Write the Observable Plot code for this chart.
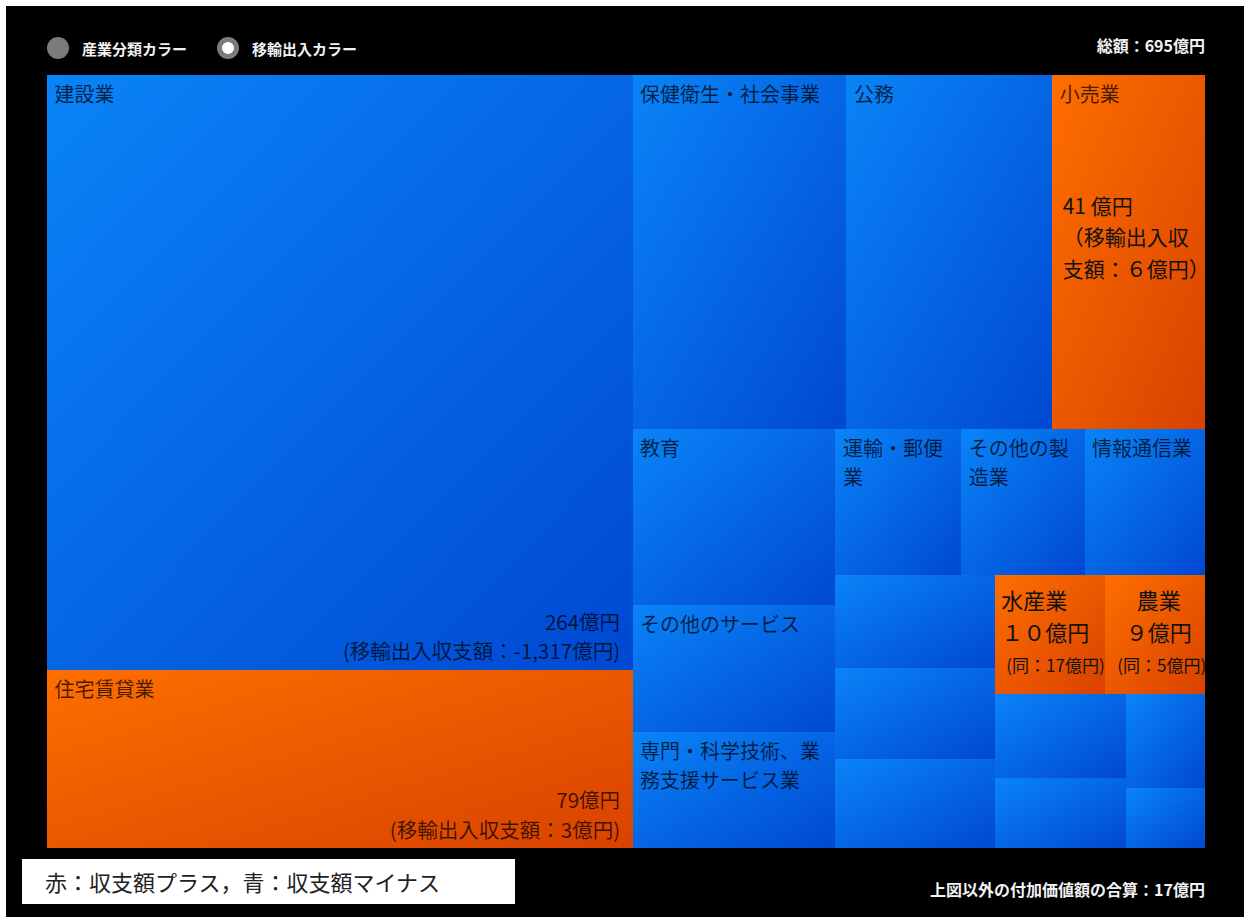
<!DOCTYPE html>
<html>
<head>
<meta charset="utf-8">
<script src="https://cdn.jsdelivr.net/npm/d3@7"></script>
<script src="https://cdn.jsdelivr.net/npm/@observablehq/plot@0.6"></script>
<style>
html, body { margin: 0; padding: 0; background: #fff; }
body { width: 1250px; height: 917px; position: relative; overflow: hidden;
  font-family: "Noto Sans CJK JP", "Noto Sans", sans-serif; }
#bg { position: absolute; left: 6px; top: 6px; width: 1238px; height: 911px; background: #000; }
#chart { position: absolute; left: 0; top: 0; }
.lg { position: absolute; top: 37px; height: 22px; display: flex; align-items: center; color: #f2f2f2;
  font-size: 15px; font-weight: 700; white-space: nowrap; }
.dot { width: 22px; height: 22px; border-radius: 50%; background: #7b7b7b; margin-right: 13px; box-sizing: border-box; }
.dot.on { background: #fff; border: 5px solid #7b7b7b; }
.note { position: absolute; right: 45px; color: #f2f2f2; font-size: 16px; font-weight: 700; white-space: nowrap; }
#box { position: absolute; left: 22px; top: 859px; width: 493px; height: 45px; background: #fff;
  color: #222; font-size: 22px; line-height: 45px; padding-left: 23px; box-sizing: border-box; white-space: nowrap; }
</style>
</head>
<body>
<div id="bg"></div>
<div id="chart"></div>
<div class="lg" style="left:47px"><div class="dot"></div>産業分類カラー</div>
<div class="lg" style="left:217px"><div class="dot on"></div>移輸出入カラー</div>
<div class="note" id="total" style="top:33px"></div>
<div class="note" id="other" style="top:877px"></div>
<div id="box">赤：収支額プラス，青：収支額マイナス</div>
<script>
// ---- data (億円) ----
const industries = ["建設業", "住宅賃貸業", "保健衛生・社会事業", "公務", "小売業", "教育",
  "その他のサービス", "専門・科学技術、業務支援サービス業", "運輸・郵便業", "その他の製造業", "情報通信業",
  "", "", "", "水産業", "農業", "", "", "", ""];
const values = [264, 79, 57.4, 55.2, 41, 27.1, 19.5, 17.8, 13.9, 13.6, 13.3,
  11.2, 11.1, 10.7, 10, 9, 8.3, 7.0, 5.6, 3.6];
// sign of 移輸出入収支額 (+1 red, -1 blue)
const balanceSign = [-1, 1, -1, -1, 1, -1, -1, -1, -1, -1, -1, -1, -1, -1, 1, 1, -1, -1, -1, -1];
// 移輸出入収支額 shown in the picture
const balanceShown = [-1317, 3, null, null, 6, null, null, null, null, null, null,
  null, null, null, 17, 5, null, null, null, null];
const totalValue = 695;
const otherValue = 17;

document.getElementById("total").textContent = `総額：${totalValue}億円`;
document.getElementById("other").textContent = `上図以外の付加価値額の合算：${otherValue}億円`;

// ---- layout ----
const W = 1250, H = 917, mL = 47, mR = 45, mT = 75, mB = 69;
const fw = W - mL - mR, fh = H - mT - mB;

const root = d3.hierarchy({children: industries.map((name, i) => ({
  name, value: values[i], sign: balanceSign[i], bal: balanceShown[i]
}))}).sum(d => d.value || 0);
d3.treemap().tile(d3.treemapSquarify).size([fw, fh]).paddingInner(0).round(false)(root);
const cells = root.leaves().map(n => ({...n.data, x0: n.x0, x1: n.x1, y0: n.y0, y1: n.y1}));

const FS = 20;
function wrapChars(s, w) {
  const n = Math.max(1, Math.floor((w - 12) / FS));
  const out = [];
  for (let i = 0; i < s.length; i += n) out.push(s.slice(i, i + n));
  return out.join("\n");
}
const fwDigits = s => String(s).replace(/[0-9]/g, c => String.fromCharCode(c.charCodeAt(0) + 0xFEE0));
const signed = v => (v < 0 ? "-" : "") + d3.format(",")(Math.abs(v));

const callouts = ["水産業", "農業"];
const labelCells = cells.filter(d => d.name && !callouts.includes(d.name))
  .map(d => ({...d, label: wrapChars(d.name, d.x1 - d.x0)}));
const valueCells = cells.filter(d => d.bal != null && (d.name === "建設業" || d.name === "住宅賃貸業"))
  .map(d => ({...d, label: `${d.value}億円\n(移輸出入収支額：${signed(d.bal)}億円)`}));
const retail = cells.filter(d => d.name === "小売業")
  .map(d => ({...d, label: `${d.value} 億円\n（移輸出入収\n支額：${fwDigits(d.bal)}億円）`}));
const fish = cells.filter(d => d.name === "水産業")
  .map(d => ({...d, label: `${d.name}\n${fwDigits(d.value)}億円`, sub: `(同：${d.bal}億円)`}));
const farm = cells.filter(d => d.name === "農業")
  .map(d => ({...d, label: `${d.name}\n${fwDigits(d.value)}億円`, sub: `(同：${d.bal}億円)`}));

const defs = () => {
  const g = d3.create("svg:defs");
  const mk = (id, c0, c1) => {
    const lg = g.append("linearGradient").attr("id", id)
      .attr("x1", 0).attr("y1", 0).attr("x2", 1).attr("y2", 1);
    lg.append("stop").attr("offset", "0%").attr("stop-color", c0);
    lg.append("stop").attr("offset", "100%").attr("stop-color", c1);
  };
  mk("gBlue", "#0a84f7", "#0048d2");
  mk("gOrange", "#ff6e00", "#d84200");
  return g.node();
};

const pos = {x1: "x0", x2: "x1", y1: "y0", y2: "y1"};
const chart = Plot.plot({
  width: W, height: H,
  marginLeft: mL, marginRight: mR, marginTop: mT, marginBottom: mB,
  style: {background: "transparent", fontFamily: '"Noto Sans CJK JP", "Noto Sans", sans-serif'},
  x: {domain: [0, fw], axis: null},
  y: {domain: [0, fh], range: [mT, H - mB], axis: null},
  marks: [
    defs,
    Plot.rect(cells.filter(d => d.sign < 0), {...pos, fill: "url(#gBlue)", shapeRendering: "crispEdges"}),
    Plot.rect(cells.filter(d => d.sign > 0), {...pos, fill: "url(#gOrange)", shapeRendering: "crispEdges"}),
    Plot.text(labelCells, {x: "x0", y: "y0", text: "label", textAnchor: "start", lineAnchor: "top",
      dx: 7, dy: 6, fontSize: FS, lineHeight: 1.45, fill: "#000", fillOpacity: 0.72}),
    Plot.text(valueCells, {x: "x1", y: "y1", text: "label", textAnchor: "end", lineAnchor: "bottom",
      dx: -13, dy: -11, fontSize: 20.5, lineHeight: 1.45, fill: "#000", fillOpacity: 0.72}),
    Plot.text(retail, {x: "x0", y: "y0", text: "label", textAnchor: "start", lineAnchor: "top",
      dx: 10, dy: 116, fontSize: 21, lineHeight: 1.5, fill: "#111"}),
    Plot.text(fish, {x: "x0", y: "y0", text: "label", textAnchor: "start", lineAnchor: "top",
      dx: 6, dy: 11, fontSize: 22, lineHeight: 1.45, fill: "#111"}),
    Plot.text(fish, {x: "x0", y: "y0", text: "sub", textAnchor: "start", lineAnchor: "bottom",
      dx: 11, dy: 97, fontSize: 17, fill: "#111"}),
    Plot.text(farm, {x: d => (d.x0 + d.x1) / 2, y: "y0", text: "label", textAnchor: "middle", lineAnchor: "top",
      dx: 3, dy: 11, fontSize: 22, lineHeight: 1.45, fill: "#111"}),
    Plot.text(farm, {x: d => (d.x0 + d.x1) / 2, y: "y0", text: "sub", textAnchor: "middle", lineAnchor: "bottom",
      dx: 6, dy: 97, fontSize: 17, fill: "#111"})
  ]
});
document.getElementById("chart").appendChild(chart);
</script>
</body>
</html>
